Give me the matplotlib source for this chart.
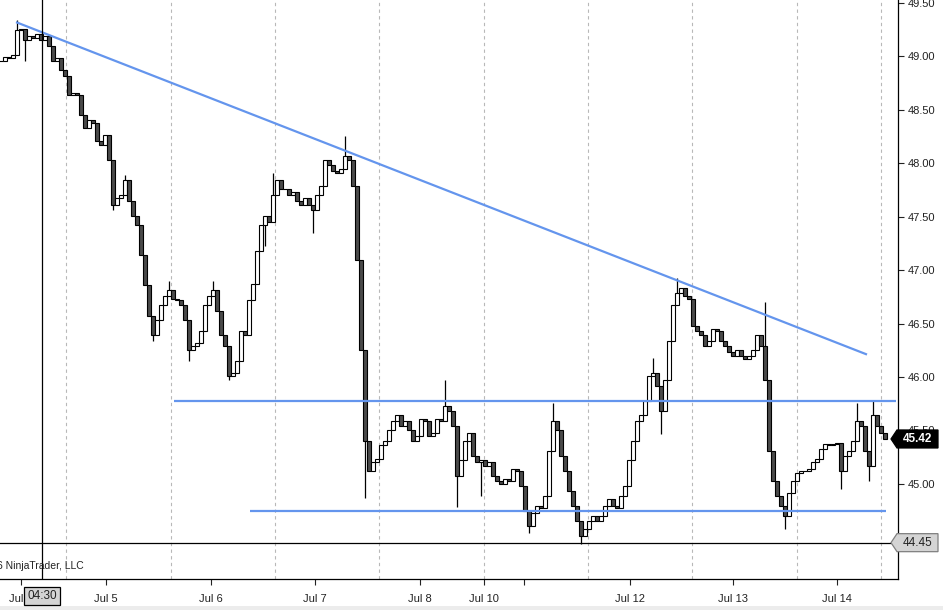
import numpy as np
import matplotlib.pyplot as plt
from matplotlib.patches import Polygon
from matplotlib.transforms import IdentityTransform

plt.rcParams['font.family'] = ['Liberation Sans', 'DejaVu Sans']

# closing prices, one per bar
closes = [
    48.96, 48.99, 48.98, 49.01, 49.25, 49.26, 49.15, 49.19, 49.17, 49.21,
    49.15, 49.19, 49.10, 48.96, 48.98, 48.87, 48.82, 48.64, 48.66, 48.64,
    48.45, 48.33, 48.40, 48.38, 48.21, 48.17, 48.26, 48.03, 47.61, 47.67,
    47.70, 47.84, 47.65, 47.51, 47.42, 47.14, 46.86, 46.57, 46.39, 46.53,
    46.67, 46.76, 46.81, 46.73, 46.72, 46.67, 46.53, 46.25, 46.29, 46.32,
    46.43, 46.67, 46.76, 46.81, 46.62, 46.39, 46.29, 46.01, 46.04, 46.15,
    46.43, 46.39, 46.72, 46.87, 47.18, 47.42, 47.51, 47.45, 47.70, 47.84,
    47.76, 47.76, 47.70, 47.73, 47.65, 47.61, 47.67, 47.61, 47.56, 47.70,
    47.79, 48.03, 47.98, 47.93, 47.91, 47.95, 48.07, 48.03, 47.79, 47.09,
    46.25, 45.40, 45.12, 45.20, 45.23, 45.36, 45.40, 45.50, 45.59, 45.64,
    45.54, 45.59, 45.50, 45.40, 45.45, 45.61, 45.59, 45.45, 45.48, 45.61,
    45.59, 45.73, 45.68, 45.54, 45.07, 45.22, 45.40, 45.48, 45.26, 45.20,
    45.22, 45.17, 45.20, 45.07, 45.03, 45.00, 45.05, 45.03, 45.14, 45.12,
    44.98, 44.75, 44.61, 44.73, 44.79, 44.77, 44.89, 45.31, 45.59, 45.50,
    45.26, 45.12, 44.93, 44.79, 44.65, 44.51, 44.58, 44.65, 44.70, 44.65,
    44.70, 44.79, 44.86, 44.79, 44.77, 44.89, 44.98, 45.22, 45.40, 45.59,
    45.64, 45.78, 46.01, 46.04, 45.92, 45.68, 45.97, 46.34, 46.67, 46.79,
    46.83, 46.76, 46.73, 46.48, 46.43, 46.39, 46.29, 46.34, 46.45, 46.43,
    46.34, 46.29, 46.23, 46.20, 46.25, 46.20, 46.17, 46.20, 46.25, 46.39,
    46.29, 45.97, 45.31, 45.03, 44.89, 44.79, 44.70, 44.91, 45.03, 45.10,
    45.12, 45.12, 45.14, 45.20, 45.23, 45.33, 45.37, 45.36, 45.37, 45.38,
    45.12, 45.26, 45.31, 45.40, 45.59, 45.54, 45.31, 45.17, 45.64, 45.54,
    45.48, 45.42,
]

# wick extremes on the bars that poke out
spike_hi = {4: 49.34, 31: 47.89, 42: 46.90, 53: 46.90, 68: 47.91, 86: 48.25,
            111: 45.97, 138: 45.76, 163: 46.18, 169: 46.93, 191: 46.70,
            214: 45.76, 218: 45.78}
spike_lo = {6: 48.96, 28: 47.56, 38: 46.34, 47: 46.15, 57: 45.97, 66: 47.23,
            78: 47.35, 91: 44.87, 114: 44.78, 120: 44.89, 132: 44.54,
            145: 44.44, 165: 45.47, 196: 44.58, 210: 44.95, 217: 45.03}

tick_pos = [5, 26.25, 52.5, 78.5, 104.75, 120.75, 130.75, 157.25, 183, 209]
tick_lab = ['Jul 4', 'Jul 5', 'Jul 6', 'Jul 7', 'Jul 8', 'Jul 10', '', 'Jul 12', 'Jul 13', 'Jul 14']
session_breaks = [16.25, 42.5, 68.5, 94.5, 120.75, 146.75, 172.75, 199, 220]

# drawn lines: (bar, price) -> (bar, price)
trend_lines = [((3.75, 49.32), (216.5, 46.21)),
               ((43.25, 45.78), (223.75, 45.78)),
               ((62.25, 44.75), (221.25, 44.75))]

last_price = 45.42
cursor_price = 44.45
cursor_bar = 10.25
cursor_time = '04:30'

fig = plt.figure(figsize=(9.43, 6.10), dpi=100)
ax = fig.add_axes([0, 31 / 610, 898 / 943, 579 / 610])

n = len(closes)
x = np.arange(n)
c = np.array(closes)
o = np.r_[c[0], c[:-1]]
hi = np.maximum(o, c)
lo = np.minimum(o, c)
for i, v in spike_hi.items():
    hi[i] = max(hi[i], v)
for i, v in spike_lo.items():
    lo[i] = min(lo[i], v)
up = c >= o

for b in session_breaks:
    ax.axvline(b, color='#b8b8b8', lw=0.8, ls=(0, (3, 3)), zorder=1)

ax.vlines(x, lo, hi, color='black', lw=0.9, zorder=2)
ax.bar(x, c - o, bottom=o, width=0.8, color=np.where(up, 'white', '#4a4a4a'),
       edgecolor='black', linewidth=0.8, zorder=3)

for (x0, y0), (x1, y1) in trend_lines:
    ax.plot([x0, x1], [y0, y1], color='#6495ED', lw=1.6, zorder=5, solid_capstyle='butt')

ax.axhline(cursor_price, color='black', lw=0.9, zorder=6)
ax.axvline(cursor_bar, color='black', lw=0.9, zorder=6)

ax.set_xlim(-0.25, 224.25)
ax.set_ylim(44.110, 49.527)
ax.set_xticks(tick_pos, tick_lab)
ax.set_yticks(np.arange(45.0, 49.51, 0.5))
ax.yaxis.set_major_formatter(plt.FormatStrFormatter('%.2f'))
ax.yaxis.tick_right()
ax.tick_params(axis='y', length=4, pad=3, labelsize=8, colors='#222222')
ax.tick_params(axis='x', length=4, pad=7, labelsize=8, colors='#222222')
ax.spines['top'].set_visible(False)
ax.spines['left'].set_visible(False)
ax.spines['right'].set_linewidth(0.9)
ax.spines['bottom'].set_linewidth(0.9)

fig.text(84 / 943, (610 - 566) / 610, '\u00a9 2016 NinjaTrader, LLC', ha='right', va='center',
         fontsize=7.5, color='#222222')

# bottom grey strip
fig.patches.append(plt.Rectangle((0, 0), 1, 4 / 610, transform=fig.transFigure,
                                 facecolor='#ececec', edgecolor='none'))

fig.canvas.draw()


def price_tag(price, face, edge, tcolor, bold):
    yd = ax.transData.transform((0, price))[1]
    x1 = ax.bbox.x1
    tip = x1 - 7
    pts = [(tip, yd), (tip + 6, yd + 9), (x1 + 40, yd + 9), (x1 + 40, yd - 9), (tip + 6, yd - 9)]
    fig.patches.append(Polygon(pts, closed=True, transform=IdentityTransform(),
                               facecolor=face, edgecolor=edge, lw=0.9, zorder=10))
    xt, yt = fig.transFigure.inverted().transform((x1 + 20, yd))
    fig.text(xt, yt, '%.2f' % price, ha='center', va='center', fontsize=8.5, color=tcolor,
             fontweight='bold' if bold else 'normal', zorder=11)


price_tag(last_price, 'black', 'black', 'white', True)
price_tag(cursor_price, '#d4d4d4', '#808080', '#222222', False)

xb = ax.transData.transform((cursor_bar, 0))[0]
fig.text(xb / 943, (610 - 596) / 610, cursor_time, ha='center', va='center', fontsize=8.5,
         color='#222222', zorder=11,
         bbox=dict(boxstyle='square,pad=0.25', facecolor='#d4d4d4', edgecolor='black', lw=0.9))

fig.savefig('out.png', dpi=100)
